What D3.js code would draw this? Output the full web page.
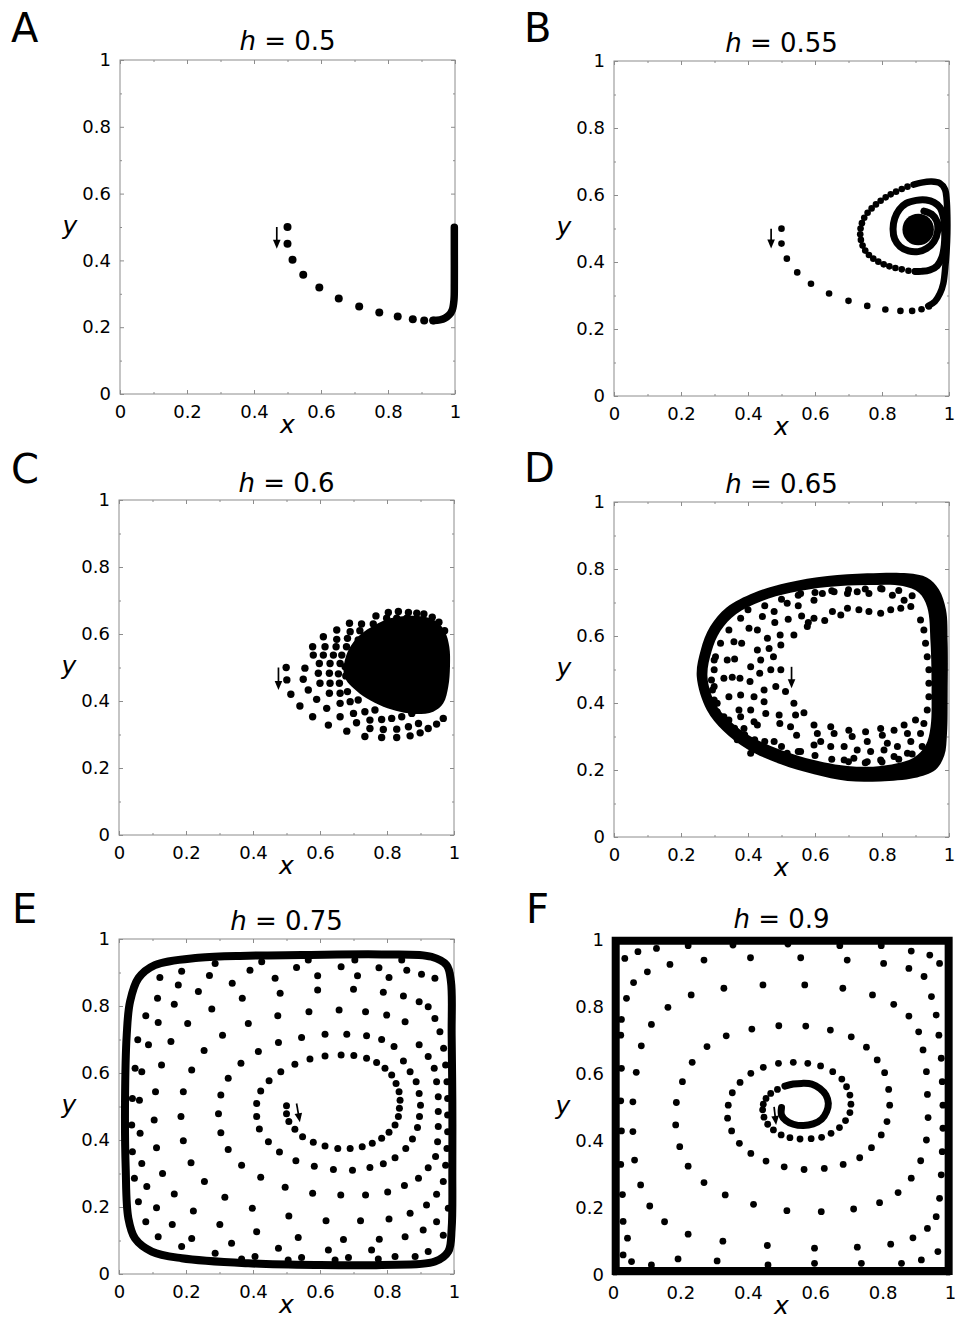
<!DOCTYPE html>
<html><head><meta charset="utf-8">
<script src="https://cdn.jsdelivr.net/npm/d3@7"></script>
<style>body{margin:0;background:#fff}</style>
</head><body>
<svg id="c" width="955" height="1320"></svg>
<script>
// ---------------- data ----------------
const tickValues = [0, 0.2, 0.4, 0.6, 0.8, 1];
const tickLabels = ["0", "0.2", "0.4", "0.6", "0.8", "1"];
const minorTicks = [0.1, 0.3, 0.5, 0.7, 0.9];
const panelLetters = ["A", "B", "C", "D", "E", "F"];
const hValues = ["0.5", "0.55", "0.6", "0.65", "0.75", "0.9"];

// A: h = 0.5
const dotsA = [[0.50,0.50],[0.50,0.45],[0.515,0.402],[0.547,0.357],[0.595,0.319],[0.653,0.286],[0.714,0.262],[0.774,0.244],[0.829,0.232],[0.874,0.224],[0.908,0.220],[0.935,0.220]];
const pathA = [[0.935,0.220],[0.955,0.222],[0.970,0.227],[0.983,0.237],[0.992,0.252],[0.997,0.282],[0.998,0.332],[0.998,0.432],[0.998,0.499]];
const arrowA = [[0.468,0.500],[0.468,0.435]];

// B: h = 0.55
const dotsB = [[0.500,0.4995],[0.50,0.455],[0.516,0.41],[0.547,0.369],[0.588,0.335],[0.642,0.306],[0.70,0.284],[0.756,0.269],[0.81,0.258],[0.855,0.254],[0.89,0.254],[0.918,0.259],[0.94,0.267],
 [0.876,0.625],[0.859,0.618],[0.842,0.610],[0.826,0.602],[0.811,0.593],[0.796,0.583],[0.782,0.572],[0.769,0.560],[0.757,0.547],[0.747,0.532],[0.740,0.516],[0.736,0.500],[0.735,0.483],[0.737,0.466],[0.742,0.449],[0.750,0.434],[0.761,0.421],[0.774,0.410],[0.789,0.401],[0.805,0.393],[0.822,0.387],[0.840,0.382],[0.859,0.378],[0.879,0.374],[0.899,0.372]];
const pathB1 = [[0.938,0.269],[0.958,0.282],[0.973,0.306],[0.983,0.336],[0.989,0.386],[0.993,0.436],[0.995,0.486],[0.995,0.535],[0.993,0.585],[0.988,0.617],[0.973,0.635],[0.948,0.640],[0.918,0.637],[0.894,0.631]];
const pathB2 = [[0.899,0.372],[0.918,0.372],[0.943,0.376],[0.965,0.389],[0.979,0.414],[0.986,0.451],[0.987,0.496],[0.983,0.535],[0.973,0.563],[0.955,0.578],[0.932,0.585],[0.902,0.584],[0.872,0.575],[0.852,0.557],[0.838,0.530],[0.833,0.498],[0.838,0.468],[0.854,0.446],[0.879,0.433],[0.908,0.431],[0.933,0.440],[0.955,0.461],[0.966,0.491],[0.963,0.523],[0.948,0.543],[0.925,0.552]];
const discB = [0.908, 0.497, 0.047];
const arrowB = [[0.469,0.4995],[0.469,0.44]];

// C: h = 0.6
const dotsC = [[0.804,0.664],[0.834,0.667],[0.864,0.664],[0.889,0.662],[0.910,0.660],[0.767,0.654],[0.799,0.647],[0.829,0.647],[0.859,0.647],[0.889,0.642],[0.724,0.630],[0.759,0.630],[0.794,0.627],[0.688,0.632],[0.690,0.607],[0.719,0.610],[0.749,0.602],[0.650,0.612],[0.650,0.584],[0.682,0.587],[0.714,0.582],[0.610,0.592],[0.615,0.562],[0.648,0.562],[0.679,0.562],[0.578,0.562],[0.580,0.537],[0.610,0.537],[0.640,0.537],[0.665,0.537],
 [0.499,0.500],[0.555,0.498],[0.598,0.512],[0.630,0.512],[0.660,0.512],[0.675,0.502],[0.501,0.463],[0.550,0.465],[0.595,0.483],[0.628,0.483],[0.655,0.481],[0.677,0.475],[0.513,0.420],[0.565,0.433],[0.600,0.453],[0.630,0.453],[0.658,0.453],[0.540,0.385],[0.590,0.405],[0.628,0.423],[0.660,0.423],[0.682,0.428],[0.578,0.353],[0.620,0.378],[0.660,0.393],[0.690,0.398],[0.714,0.403],[0.625,0.328],[0.660,0.353],[0.700,0.363],[0.734,0.368],[0.764,0.373],[0.680,0.310],[0.709,0.335],[0.749,0.343],[0.784,0.345],[0.814,0.348],[0.844,0.353],[0.874,0.363],[0.899,0.373],[0.734,0.294],[0.784,0.291],[0.829,0.291],[0.869,0.296],[0.899,0.305],[0.923,0.318],[0.948,0.331],[0.968,0.348],[0.749,0.318],[0.789,0.315],[0.829,0.316],[0.864,0.323],[0.894,0.333],
 [0.935,0.650],[0.955,0.635],[0.972,0.610]];
const blobC = [[0.670,0.493],[0.685,0.552],[0.719,0.597],[0.764,0.627],[0.809,0.647],[0.859,0.654],[0.908,0.652],[0.948,0.637],[0.973,0.607],[0.986,0.562],[0.988,0.502],[0.983,0.443],[0.968,0.393],[0.938,0.368],[0.889,0.361],[0.839,0.368],[0.789,0.383],[0.739,0.408],[0.700,0.438],[0.678,0.463]];
const arrowC = [[0.476,0.500],[0.476,0.433]];

// D: h = 0.65
const dotsD = [[0.403,0.623],[0.428,0.618],[0.458,0.593],[0.496,0.603],[0.537,0.603],[0.358,0.583],[0.381,0.578],[0.428,0.558],[0.463,0.563],[0.498,0.573],[0.338,0.528],[0.360,0.531],[0.408,0.508],[0.438,0.528],[0.476,0.538],[0.328,0.474],[0.353,0.477],[0.376,0.474],[0.406,0.464],[0.435,0.489],[0.468,0.499],[0.498,0.499],[0.343,0.419],[0.378,0.424],[0.418,0.419],[0.448,0.439],[0.483,0.449],[0.512,0.434],[0.373,0.379],[0.408,0.379],[0.448,0.404],[0.537,0.399],[0.343,0.349],[0.378,0.359],[0.418,0.344],[0.453,0.369],[0.493,0.364],[0.542,0.364],[0.567,0.371],[0.353,0.314],[0.388,0.324],[0.428,0.334],[0.495,0.339],[0.527,0.329],[0.597,0.334],[0.368,0.290],[0.418,0.285],[0.478,0.285],[0.545,0.304],[0.607,0.309],[0.408,0.250],[0.468,0.250],[0.517,0.250],[0.557,0.255],[0.597,0.275],
 [0.647,0.329],[0.657,0.309],[0.701,0.319],[0.711,0.300],[0.751,0.314],[0.756,0.285],[0.796,0.324],[0.801,0.304],[0.816,0.280],[0.836,0.319],[0.866,0.334],[0.876,0.309],[0.900,0.349],[0.617,0.285],[0.647,0.270],[0.687,0.270],[0.726,0.260],[0.766,0.255],[0.806,0.260],[0.846,0.270],[0.886,0.285],[0.915,0.309],[0.687,0.230],[0.716,0.235],[0.756,0.225],[0.796,0.230],[0.836,0.240],[0.876,0.250],
 [0.577,0.628],[0.597,0.653],[0.629,0.646],[0.652,0.673],[0.677,0.663],[0.697,0.683],[0.731,0.678],[0.761,0.673],[0.796,0.668],[0.826,0.678],[0.856,0.683],[0.886,0.688],[0.597,0.707],[0.622,0.727],[0.657,0.732],[0.697,0.727],[0.726,0.732],[0.761,0.727],[0.796,0.742],[0.831,0.722],[0.866,0.707],[0.557,0.727],[0.517,0.698],[0.478,0.673],[0.443,0.658],
 [0.915,0.648],[0.925,0.618],[0.930,0.578],[0.935,0.538],[0.940,0.499],[0.940,0.459],[0.940,0.419],[0.935,0.379],[0.925,0.339],
 [0.299,0.499],[0.303,0.538],[0.318,0.578],[0.343,0.618],[0.378,0.653],[0.299,0.449],[0.308,0.399],[0.328,0.359],
 [0.299,0.528],[0.291,0.469],[0.294,0.439],[0.299,0.409],[0.308,0.374],[0.323,0.339],[0.360,0.325],[0.390,0.305],[0.420,0.290],
 [0.450,0.285],[0.500,0.270],[0.550,0.255],[0.600,0.243],[0.650,0.232],[0.700,0.225],[0.750,0.222],[0.800,0.224],[0.850,0.232],[0.890,0.248],[0.920,0.270],
 [0.400,0.678],[0.450,0.690],[0.500,0.710],[0.550,0.722],[0.600,0.730],[0.650,0.735],[0.700,0.738],[0.750,0.740],[0.800,0.740],[0.850,0.736],[0.890,0.720],
 [0.480,0.640],[0.520,0.650],[0.560,0.660],[0.550,0.690],[0.580,0.640]];
const ringOuterD = [[0.247,0.479],[0.259,0.558],[0.287,0.628],[0.336,0.685],[0.418,0.729],[0.517,0.759],[0.637,0.779],[0.756,0.787],[0.876,0.787],[0.935,0.774],[0.970,0.739],[0.991,0.678],[0.996,0.578],[0.996,0.429],[0.994,0.309],[0.986,0.243],[0.960,0.201],[0.896,0.176],[0.796,0.166],[0.697,0.167],[0.597,0.187],[0.498,0.217],[0.398,0.262],[0.326,0.317],[0.277,0.379]];
const ringInnerD = [[0.279,0.479],[0.291,0.553],[0.318,0.616],[0.365,0.666],[0.440,0.704],[0.527,0.729],[0.637,0.746],[0.756,0.752],[0.862,0.749],[0.910,0.729],[0.935,0.686],[0.945,0.578],[0.948,0.429],[0.945,0.329],[0.930,0.273],[0.893,0.236],[0.796,0.212],[0.697,0.212],[0.597,0.230],[0.498,0.260],[0.410,0.299],[0.345,0.348],[0.301,0.401]];
const arrowD = [[0.530,0.508],[0.530,0.444]];

// E: h = 0.75
const dotsE = [[0.500,0.502],[0.500,0.478],[0.507,0.455],[0.525,0.432],[0.548,0.410],[0.580,0.393],[0.615,0.382],[0.653,0.375],[0.690,0.375],[0.726,0.380],[0.756,0.390],[0.784,0.405],[0.806,0.423],[0.824,0.445],[0.834,0.470],[0.837,0.495],[0.839,0.519],[0.836,0.544],[0.827,0.569],[0.814,0.594],[0.794,0.614],[0.769,0.631],[0.739,0.644],[0.701,0.652],[0.663,0.654],[0.615,0.651],[0.570,0.642],[0.525,0.626],[0.483,0.604],[0.448,0.577],[0.423,0.546],[0.411,0.509],[0.411,0.470],[0.419,0.433],[0.446,0.395],[0.479,0.364],
 [0.528,0.338],[0.583,0.322],[0.640,0.312],[0.697,0.310],[0.749,0.318],[0.789,0.329],[0.824,0.347],[0.856,0.375],[0.876,0.403],[0.891,0.437],[0.897,0.470],[0.900,0.504],[0.896,0.539],[0.887,0.574],[0.869,0.604],[0.849,0.636],[0.821,0.679],[0.784,0.700],[0.739,0.711],[0.680,0.716],[0.615,0.716],[0.545,0.706],[0.476,0.691],[0.416,0.664],[0.364,0.629],[0.326,0.584],[0.304,0.534],[0.297,0.478],[0.304,0.422],[0.326,0.372],[0.366,0.325],[0.423,0.289],
 [0.496,0.259],[0.578,0.241],[0.662,0.236],[0.736,0.236],[0.802,0.245],[0.852,0.264],[0.894,0.286],[0.923,0.317],[0.945,0.351],[0.951,0.395],[0.953,0.440],[0.953,0.485],[0.953,0.529],[0.948,0.574],[0.941,0.614],[0.923,0.649],[0.896,0.684],[0.854,0.753],[0.799,0.773],[0.736,0.783],[0.657,0.788],[0.567,0.783],[0.474,0.771],[0.386,0.748],[0.309,0.713],[0.254,0.667],[0.217,0.609],[0.192,0.544],[0.185,0.470],[0.192,0.398],[0.215,0.332],[0.255,0.276],[0.316,0.229],[0.398,0.196],
 [0.507,0.173],[0.618,0.159],[0.721,0.159],[0.806,0.164],[0.869,0.181],[0.918,0.206],[0.948,0.238],[0.968,0.276],[0.975,0.325],[0.979,0.375],[0.981,0.425],[0.981,0.475],[0.981,0.524],[0.979,0.574],[0.975,0.624],[0.969,0.674],[0.958,0.723],[0.943,0.763],[0.923,0.798],[0.896,0.813],[0.849,0.830],[0.789,0.841],[0.700,0.850],[0.593,0.848],[0.481,0.838],[0.368,0.823],[0.277,0.791],[0.205,0.748],[0.155,0.694],[0.127,0.624],[0.109,0.544],[0.105,0.460],[0.112,0.377],[0.130,0.300],[0.165,0.239],[0.222,0.188],[0.301,0.148],[0.411,0.126],
 [0.535,0.109],[0.670,0.103],[0.777,0.104],[0.854,0.111],[0.908,0.131],[0.948,0.156],[0.943,0.883],[0.903,0.895],[0.859,0.907],[0.806,0.885],[0.712,0.890],[0.593,0.890],[0.466,0.883],[0.338,0.868],[0.237,0.843],[0.165,0.805],[0.117,0.751],[0.088,0.684],[0.068,0.604],[0.061,0.519],[0.063,0.420],[0.068,0.330],[0.083,0.261],[0.112,0.198],[0.159,0.148],[0.217,0.106],[0.336,0.092],[0.476,0.077],[0.625,0.072],[0.754,0.072],
 [0.391,0.907],[0.530,0.915],[0.663,0.917],[0.776,0.914],[0.270,0.891],[0.177,0.863],[0.115,0.823],[0.080,0.771],[0.056,0.699],[0.048,0.614],[0.040,0.524],[0.038,0.445],[0.040,0.365],[0.046,0.286],[0.058,0.216],[0.080,0.156],[0.117,0.111],[0.187,0.082],[0.287,0.062],[0.406,0.052],[0.545,0.049],[0.685,0.049],[0.824,0.052],[0.923,0.067],[0.968,0.116],[0.983,0.196],
 [0.122,0.885],[0.187,0.904],[0.287,0.927],[0.426,0.932],[0.565,0.937],[0.704,0.937],[0.844,0.937],[0.366,0.045],[0.505,0.042],[0.645,0.042],[0.774,0.045],[0.884,0.052]];
const ringE = [[0.545,0.952],[0.784,0.954],[0.933,0.947],[0.978,0.922],[0.991,0.872],[0.993,0.713],[0.995,0.514],[0.995,0.315],[0.993,0.136],[0.983,0.067],[0.943,0.037],[0.784,0.027],[0.585,0.027],[0.386,0.032],[0.187,0.047],[0.098,0.067],[0.048,0.106],[0.028,0.166],[0.020,0.315],[0.018,0.514],[0.023,0.713],[0.033,0.813],[0.058,0.883],[0.107,0.922],[0.237,0.944],[0.386,0.950]];
const arrowE = [[0.530,0.509],[0.540,0.453]];

// F: h = 0.9
const dotsF = [[0.488,0.554],[0.468,0.542],[0.454,0.527],[0.446,0.510],[0.444,0.493],[0.448,0.471],[0.459,0.450],[0.476,0.433],[0.499,0.418],[0.525,0.410],[0.555,0.406],[0.588,0.407],[0.619,0.411],[0.647,0.423],[0.672,0.440],[0.690,0.461],[0.703,0.485],[0.706,0.510],[0.703,0.537],[0.693,0.562],[0.679,0.585],[0.652,0.607],[0.616,0.624],[0.578,0.632],[0.535,0.635],[0.491,0.632],[0.446,0.620],[0.409,0.602],[0.377,0.575],[0.354,0.544],[0.342,0.507],[0.340,0.468],[0.352,0.430],[0.375,0.393],[0.409,0.363],[0.454,0.340],[0.508,0.323],[0.567,0.315],[0.627,0.318],[0.683,0.330],
 [0.732,0.350],[0.767,0.380],[0.796,0.418],[0.813,0.458],[0.821,0.507],[0.818,0.554],[0.806,0.604],[0.784,0.642],[0.752,0.680],[0.707,0.711],[0.645,0.731],[0.572,0.743],[0.492,0.744],[0.412,0.734],[0.336,0.714],[0.279,0.682],[0.235,0.635],[0.206,0.577],[0.188,0.515],[0.186,0.448],[0.198,0.383],[0.223,0.325],[0.270,0.276],[0.333,0.239],[0.417,0.211],[0.516,0.192],[0.618,0.189],[0.714,0.197],[0.791,0.216],[0.846,0.246],[0.885,0.289],[0.913,0.341],[0.930,0.403],[0.935,0.470],[0.933,0.539],[0.930,0.607],[0.920,0.672],[0.907,0.726],[0.878,0.773],[0.833,0.808],[0.770,0.836],[0.682,0.856],[0.569,0.866],[0.445,0.866],[0.329,0.856],[0.232,0.836],[0.163,0.799],[0.114,0.748],[0.084,0.684],[0.069,0.605],[0.059,0.517],[0.059,0.428],[0.064,0.343],[0.082,0.269],[0.109,0.206],[0.153,0.159],[0.223,0.122],[0.326,0.101],[0.458,0.088],[0.598,0.080],[0.725,0.083],[0.824,0.092],[0.890,0.111],[0.933,0.139],[0.959,0.174],[0.969,0.229],[0.974,0.299],[0.977,0.368],[0.979,0.438],[0.979,0.507],[0.977,0.577],[0.974,0.647],[0.967,0.716],[0.959,0.776],[0.945,0.831],[0.923,0.891],[0.878,0.915],[0.803,0.930],[0.695,0.940],[0.557,0.947],[0.408,0.947],[0.270,0.940],[0.169,0.927],[0.102,0.905],[0.061,0.873],[0.040,0.826],[0.025,0.763],
 [0.035,0.945],[0.074,0.965],[0.129,0.975],[0.223,0.983],[0.356,0.985],[0.519,0.988],[0.673,0.983],[0.796,0.983],[0.885,0.967],[0.940,0.955],[0.969,0.930],
 [0.030,0.060],[0.055,0.040],[0.114,0.030],[0.193,0.048],[0.309,0.042],[0.460,0.030],[0.598,0.035],[0.737,0.035],[0.856,0.035],[0.915,0.045],[0.964,0.070],
 [0.023,0.716],[0.025,0.617],[0.023,0.520],[0.025,0.430],[0.023,0.330],[0.028,0.240],[0.030,0.160],[0.043,0.110]];
const squareF = [[0.008,0.012],[0.008,0.998],[0.996,0.998],[0.996,0.012]];
const curlF = [[0.500,0.500],[0.500,0.478],[0.513,0.461],[0.535,0.450],[0.565,0.446],[0.594,0.451],[0.619,0.465],[0.634,0.488],[0.639,0.512],[0.632,0.537],[0.614,0.557],[0.590,0.570],[0.560,0.572],[0.535,0.570],[0.510,0.564]];
const arrowF = [[0.478,0.502],[0.484,0.448]];

// ---------------- layout ----------------
const panels = [
  {i:0, left:120, top:60,  w:335, h:334, lx:11,  ly:42,  r:4.0, titleDy:10},
  {i:1, left:614, top:61,  w:335, h:335, lx:524, ly:42,  r:3.3, titleDy:9},
  {i:2, left:119, top:500, w:335, h:335, lx:11,  ly:483, r:3.7, titleDy:8},
  {i:3, left:614, top:502, w:335, h:335, lx:524, ly:482, r:3.5, titleDy:9},
  {i:4, left:119, top:939, w:335, h:335, lx:12,  ly:923, r:3.5, titleDy:9},
  {i:5, left:613, top:940, w:337, h:335, lx:526, ly:923, r:3.4, titleDy:12}
];
const FONT = "'DejaVu Sans', 'Liberation Sans', Arial, sans-serif";
const svg = d3.select("#c");

function drawArrow(g, x, y, a) {
  const x1 = x(a[0][0]), y1 = y(a[0][1]), x2 = x(a[1][0]), y2 = y(a[1][1]);
  const dx = x2 - x1, dy = y2 - y1, L = Math.hypot(dx, dy), ux = dx / L, uy = dy / L;
  const hl = 9, hw = 3.8;
  g.append("line").attr("x1", x1).attr("y1", y1).attr("x2", x2 - ux * hl * 0.6).attr("y2", y2 - uy * hl * 0.6)
    .attr("stroke", "#000").attr("stroke-width", 1.7);
  const bx = x2 - ux * hl, by = y2 - uy * hl;
  g.append("path").attr("d", `M${x2},${y2}L${bx - uy * hw},${by + ux * hw}L${bx + uy * hw},${by - ux * hw}Z`).attr("fill", "#000");
}

panels.forEach(p => {
  const x = d3.scaleLinear().domain([0, 1]).range([p.left, p.left + p.w]);
  const y = d3.scaleLinear().domain([0, 1]).range([p.top + p.h, p.top]);
  const g = svg.append("g");
  const line = d3.line().x(d => x(d[0])).y(d => y(d[1])).curve(d3.curveCatmullRom.alpha(0.5));
  const lineClosed = d3.line().x(d => x(d[0])).y(d => y(d[1])).curve(d3.curveCatmullRomClosed.alpha(0.5));

  g.append("rect").attr("x", p.left).attr("y", p.top).attr("width", p.w).attr("height", p.h)
    .attr("fill", "none").attr("stroke", "#8c8c8c").attr("stroke-width", 1);

  const styleAxis = (sel) => { sel.select(".domain").remove(); sel.selectAll("line").attr("stroke", "#8c8c8c");
    sel.selectAll("text").attr("font-family", FONT).attr("font-size", 18).attr("fill", "#000"); };
  g.append("g").attr("transform", `translate(0,${p.top + p.h})`)
    .call(d3.axisBottom(x).tickValues(tickValues).tickFormat((d, i) => tickLabels[i]).tickSizeInner(-4).tickSizeOuter(0).tickPadding(11))
    .call(styleAxis);
  g.append("g").attr("transform", `translate(${p.left},0)`)
    .call(d3.axisLeft(y).tickValues(tickValues).tickFormat((d, i) => tickLabels[i]).tickSizeInner(-4).tickSizeOuter(0).tickPadding(9))
    .call(styleAxis);
  g.append("g").attr("transform", `translate(0,${p.top})`)
    .call(d3.axisTop(x).tickValues(tickValues).tickFormat("").tickSizeInner(-4).tickSizeOuter(0)).call(styleAxis);
  g.append("g").attr("transform", `translate(${p.left + p.w},0)`)
    .call(d3.axisRight(y).tickValues(tickValues).tickFormat("").tickSizeInner(-4).tickSizeOuter(0)).call(styleAxis);
  [[d3.axisBottom(x), `translate(0,${p.top + p.h})`], [d3.axisTop(x), `translate(0,${p.top})`],
   [d3.axisLeft(y), `translate(${p.left},0)`], [d3.axisRight(y), `translate(${p.left + p.w},0)`]].forEach(([ax, tr]) => {
    g.append("g").attr("transform", tr).call(ax.tickValues(minorTicks).tickFormat("").tickSizeInner(-2).tickSizeOuter(0)).call(styleAxis);
  });

  g.append("text").attr("x", p.lx).attr("y", p.ly).attr("font-family", FONT).attr("font-size", 40).text(panelLetters[p.i]);
  const t = g.append("text").attr("x", p.left + p.w / 2).attr("y", p.top - p.titleDy).attr("text-anchor", "middle")
    .attr("font-family", FONT).attr("font-size", 26);
  t.append("tspan").attr("font-style", "italic").text("h");
  t.append("tspan").text(" = " + hValues[p.i]);
  g.append("text").attr("x", p.left + p.w / 2).attr("y", p.top + p.h + 39).attr("text-anchor", "middle")
    .attr("font-family", FONT).attr("font-size", 25).attr("font-style", "italic").text("x");
  g.append("text").attr("x", p.left - 50).attr("y", y(0.48)).attr("text-anchor", "middle")
    .attr("font-family", FONT).attr("font-size", 25).attr("font-style", "italic").text("y");

  const marks = g.append("g");
  const band = (pts, w) => marks.append("path").attr("d", line(pts)).attr("fill", "none").attr("stroke", "#000")
    .attr("stroke-width", w).attr("stroke-linecap", "round").attr("stroke-linejoin", "round");
  const dots = (arr) => marks.selectAll(null).data(arr).enter().append("circle")
    .attr("cx", d => x(d[0])).attr("cy", d => y(d[1])).attr("r", p.r).attr("fill", "#000");

  if (p.i === 0) { band(pathA, 7.5); dots(dotsA); drawArrow(marks, x, y, arrowA); }
  if (p.i === 1) {
    band(pathB1, 6.5); band(pathB2, 7);
    marks.append("circle").attr("cx", x(discB[0])).attr("cy", y(discB[1])).attr("r", x(discB[2]) - x(0)).attr("fill", "#000");
    dots(dotsB); drawArrow(marks, x, y, arrowB);
  }
  if (p.i === 2) {
    marks.append("path").attr("d", lineClosed(blobC)).attr("fill", "#000");
    dots(dotsC); drawArrow(marks, x, y, arrowC);
  }
  if (p.i === 3) {
    marks.append("path").attr("d", lineClosed(ringOuterD) + lineClosed(ringInnerD)).attr("fill", "#000").attr("fill-rule", "evenodd");
    dots(dotsD); drawArrow(marks, x, y, arrowD);
  }
  if (p.i === 4) {
    marks.append("path").attr("d", lineClosed(ringE)).attr("fill", "none").attr("stroke", "#000").attr("stroke-width", 8);
    dots(dotsE); drawArrow(marks, x, y, arrowE);
  }
  if (p.i === 5) {
    marks.append("path").attr("d", d3.line().x(d => x(d[0])).y(d => y(d[1])).curve(d3.curveLinearClosed)(squareF))
      .attr("fill", "none").attr("stroke", "#000").attr("stroke-width", 8).attr("stroke-linejoin", "miter");
    band(curlF, 7); dots(dotsF); drawArrow(marks, x, y, arrowF);
  }
});
</script>
</body></html>
